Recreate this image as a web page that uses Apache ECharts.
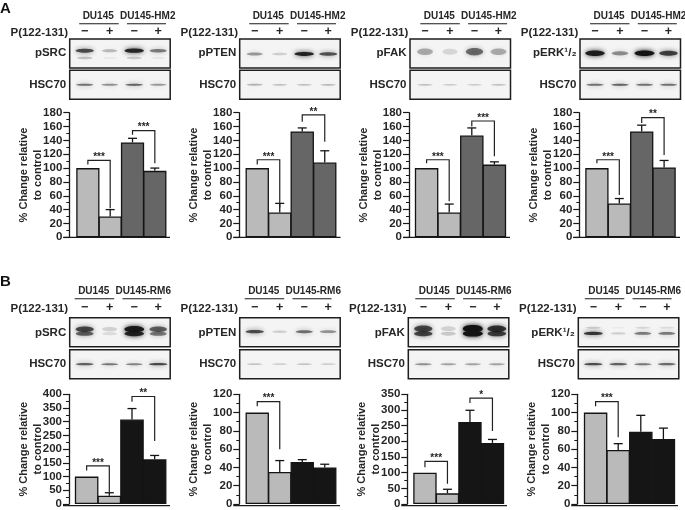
<!DOCTYPE html>
<html><head><meta charset="utf-8">
<style>html,body{margin:0;background:#fff}#c{width:685px;height:510px;filter:blur(0.35px)}</style>
<script src="https://cdn.jsdelivr.net/npm/echarts@6/dist/echarts.min.js"></script>
</head><body><div id="c"></div>
<script>
// ---------- data ----------
const catsA = ['DU145 −','DU145 +','DU145-HM2 −','DU145-HM2 +'];
const catsB = ['DU145 −','DU145 +','DU145-RM6 −','DU145-RM6 +'];
const treatment = ['−','+','−','+'];

const a_pSRC_values  = [100, 30, 137, 96];   const a_pSRC_tops  = [null, 40, 143, 100];
const a_pPTEN_values = [100, 36, 153, 108];  const a_pPTEN_tops = [null, 49, 158, 125];
const a_pFAK_values  = [100, 36, 147, 105];  const a_pFAK_tops  = [null, 48, 158, 109];
const a_pERK_values  = [100, 49, 153, 101];  const a_pERK_tops  = [null, 56, 162, 111];
const b_pSRC_values  = [100, 30, 308, 163];  const b_pSRC_tops  = [null, 41, 348, 177];
const b_pPTEN_values = [100, 35, 46, 40];    const b_pPTEN_tops = [null, 47.5, 48.5, 43.5];
const b_pFAK_values  = [100, 34, 262, 195];  const b_pFAK_tops  = [null, 47, 299, 206];
const b_pERK_values  = [100, 59, 79, 71];    const b_pERK_tops  = [null, 66, 97, 83];

// brackets: [left bar, right bar, left foot, top, right foot]
const a_pSRC_brackets  = [[0,1,105,111,42],[2,3,148,154,107]];
const a_pPTEN_brackets = [[0,1,105,112,43],[2,3,167,177,138]];
const a_pFAK_brackets  = [[0,1,107,112,52],[2,3,160,168,117]];
const a_pERK_brackets  = [[0,1,107,112,61],[2,3,165,173,119]];
const b_pSRC_brackets  = [[0,1,122,139,44],[2,3,373,392,230]];
const b_pPTEN_brackets = [[0,1,107,112,60]];
const b_pFAK_brackets  = [[0,1,117,136,65],[2,3,322,338,233]];
const b_pERK_brackets  = [[0,1,107,112,73]];

const a_pSRC_stars = ['***','***'], a_pPTEN_stars = ['***','**'], a_pFAK_stars = ['***','***'], a_pERK_stars = ['***','**'];
const b_pSRC_stars = ['***','**'], b_pPTEN_stars = ['***'], b_pFAK_stars = ['***','*'], b_pERK_stars = ['***'];

// blot band densities per lane
const a_pSRC_main = [.7,.25,.88,.5], a_pSRC_low = [.22,.05,.18,.06];
const a_pPTEN_main = [.38,.16,.9,.68];
const a_pFAK_main = [.3,.13,.55,.3];
const a_pERK_main = [.92,.42,1,.75];
const a_hsc1 = [.55,.42,.6,.38], a_hsc2 = [.28,.22,.22,.25], a_hsc3 = [.22,.18,.18,.22], a_hsc4 = [.55,.6,.55,.55];
const b_pSRC_main = [.7,.15,.95,.6], b_pSRC_low = [.6,.1,.9,.5];
const b_pPTEN_main = [.7,.16,.55,.4];
const b_pFAK_main = [.7,.14,1,.8], b_pFAK_low = [.72,.18,1,.75];
const b_pERK_main = [.8,.16,.5,.5], b_pERK_low = [.16,.04,.12,.1];
const b_hsc1 = [.62,.52,.48,.72], b_hsc2 = [.2,.16,.2,.16], b_hsc3 = [.42,.34,.34,.34], b_hsc4 = [.7,.62,.52,.58];

// ---------- layout ----------
const LIGHT = '#bababa', DARK_A = '#666666', DARK_B = '#151515', INK = '#262626';
const FONT = '"Liberation Sans", Arial, sans-serif';
const rows = {
  A:{gridTop:112.7, gridH:124.6, blotTop:39, hscTop:70.3, label:16, line:23.7, treat:33},
  B:{gridTop:394.3, gridH:111.4, blotTop:317.7, hscTop:349.7, label:291.5, line:298.7, treat:308.5}
};
const panels = [
 {row:'A',cats:catsA,name:'pSRC',vals:a_pSRC_values,tops:a_pSRC_tops,br:a_pSRC_brackets,st:a_pSRC_stars,max:180,step:20,ax:69.3,x0:76.7,x1:166,end:170,bl:69.7,main:a_pSRC_main,low:a_pSRC_low,my:11.7,ly:19,hsc:a_hsc1,dark:DARK_A,ry:2.2,tx:0},
 {row:'A',cats:catsA,name:'pPTEN',vals:a_pPTEN_values,tops:a_pPTEN_tops,br:a_pPTEN_brackets,st:a_pPTEN_stars,max:180,step:20,ax:239.3,x0:246,x1:336,end:340.5,bl:239.7,main:a_pPTEN_main,my:15,hsc:a_hsc2,dark:DARK_A,ry:2,tx:0},
 {row:'A',cats:catsA,name:'pFAK',vals:a_pFAK_values,tops:a_pFAK_tops,br:a_pFAK_brackets,st:a_pFAK_stars,max:180,step:20,ax:409,x0:415.3,x1:505.7,end:510,bl:410,main:a_pFAK_main,my:12.7,hsc:a_hsc3,dark:DARK_A,ry:4.5,tx:0.8},
 {row:'A',cats:catsA,name:'pERK¹/₂',vals:a_pERK_values,tops:a_pERK_tops,br:a_pERK_brackets,st:a_pERK_stars,max:180,step:20,ax:579.3,x0:585.7,x1:675.3,end:680,bl:580,main:a_pERK_main,my:14.3,hsc:a_hsc4,dark:DARK_A,ry:2.8,tx:0.5},
 {row:'B',cats:catsB,name:'pSRC',vals:b_pSRC_values,tops:b_pSRC_tops,br:b_pSRC_brackets,st:b_pSRC_stars,max:400,step:50,ax:69,x0:75.3,x1:166,end:170,bl:69.7,main:b_pSRC_main,low:b_pSRC_low,my:11.5,ly:16,hsc:b_hsc1,dark:DARK_B,ry:3.2,tx:-4.5},
 {row:'B',cats:catsB,name:'pPTEN',vals:b_pPTEN_values,tops:b_pPTEN_tops,br:b_pPTEN_brackets,st:b_pPTEN_stars,max:120,step:20,ax:239.3,x0:246,x1:336,end:340,bl:239.7,main:b_pPTEN_main,my:14,hsc:b_hsc2,dark:DARK_B,ry:1.8,tx:-4.5},
 {row:'B',cats:catsB,name:'pFAK',vals:b_pFAK_values,tops:b_pFAK_tops,br:b_pFAK_brackets,st:b_pFAK_stars,max:350,step:50,ax:407.3,x0:413.7,x1:503.7,end:507,bl:408.3,main:b_pFAK_main,low:b_pFAK_low,my:11,ly:16,hsc:b_hsc3,dark:DARK_B,ry:3.6,tx:-2.5},
 {row:'B',cats:catsB,name:'pERK¹/₂',vals:b_pERK_values,tops:b_pERK_tops,br:b_pERK_brackets,st:b_pERK_stars,max:120,step:20,ax:577.3,x0:584.3,x1:674.7,end:678,bl:578.3,main:b_pERK_main,low:b_pERK_low,my:15.7,ly:10,hsc:b_hsc4,dark:DARK_B,ry:1.8,tx:-3}
];
const BLOT_W = 100.5, BLOT_H = 29;
const LANES = [15, 40, 64.5, 88.5];

const grid=[], xAxis=[], yAxis=[], series=[], graphic=[];
function txt(x,y,text,size,align){
  graphic.push({type:'text',x,y,z:50,style:{text,font:`bold ${size}px ${FONT}`,fill:INK,textAlign:align||'center',textVerticalAlign:'middle'}});
}
function hline(x1,x2,y,w){
  graphic.push({type:'line',z:60,shape:{x1,y1:y,x2,y2:y},style:{stroke:'#1a1a1a',lineWidth:w}});
}
function band(cx,cy,rx,ry,a){
  const c=`rgba(20,20,20,${a})`;
  graphic.push({type:'ellipse',z:31,shape:{cx,cy,rx,ry},style:{fill:c,shadowBlur:5,shadowColor:c}});
}
function blot(x,y,label,layers){
  graphic.push({type:'rect',z:30,shape:{x,y,width:BLOT_W,height:BLOT_H},style:{fill:'#f4f4f4',stroke:'none'}});
  layers.forEach(l=>l.a.forEach((a,i)=>band(x+LANES[i],y+l.y,7+a*3,l.ry*(0.6+a*0.4),a)));
  graphic.push({type:'rect',z:32,shape:{x,y,width:BLOT_W,height:BLOT_H},style:{fill:'none',stroke:'#1e1e1e',lineWidth:1.5}});
  txt(x-3.5,y+(label==='HSC70'?14.5:15-(y<100?1:0)),label,11.5,'right');
}

panels.forEach((p,i)=>{
  const r=rows[p.row];
  const bandW=(p.x1-p.x0)/4;
  grid.push({left:p.x0,top:r.gridTop,width:p.x1-p.x0,height:r.gridH,containLabel:false});
  xAxis.push({gridIndex:i,type:'category',data:p.cats,axisLine:{show:false},axisTick:{show:false},axisLabel:{show:false},splitLine:{show:false}});
  yAxis.push({gridIndex:i,type:'value',min:0,max:p.max,interval:p.step,offset:p.x0-p.ax,
    name:'% Change relative\nto control',nameLocation:'middle',nameGap:24,nameRotate:90,nameMoveOverlap:false,
    nameTextStyle:{fontFamily:FONT,fontWeight:'bold',fontSize:11,color:INK,lineHeight:14},
    axisLine:{show:true,lineStyle:{color:'#1a1a1a',width:1.3}},
    axisTick:{show:true,length:6,lineStyle:{color:'#1a1a1a',width:1.2}},
    minorTick:{show:true,splitNumber:2,length:3,lineStyle:{color:'#1a1a1a',width:1}},
    splitLine:{show:false},
    axisLabel:{margin:7,color:INK,fontFamily:FONT,fontWeight:'bold',fontSize:11.5}});
  const colors=[LIGHT,LIGHT,p.dark,p.dark];
  series.push({type:'bar',xAxisIndex:i,yAxisIndex:i,barWidth:bandW+0.9,barGap:0,z:3,silent:true,
    data:p.vals.map((v,k)=>({value:v,itemStyle:{color:colors[k],borderColor:'#141414',borderWidth:1.3}}))});
  series.push({type:'custom',xAxisIndex:i,yAxisIndex:i,z:2,silent:true,
    data:p.tops.map((t,k)=>[k,p.vals[k],t==null?p.vals[k]:t]),
    renderItem:(params,api)=>{
      const a=api.coord([api.value(0),api.value(1)]),b=api.coord([api.value(0),api.value(2)]);
      if(a[1]===b[1]) return {type:'group',children:[]};
      const st={stroke:'#141414',lineWidth:1.3,fill:'none'};
      return {type:'group',children:[
        {type:'line',shape:{x1:a[0],y1:a[1],x2:b[0],y2:b[1]},style:st},
        {type:'line',shape:{x1:b[0]-4.5,y1:b[1],x2:b[0]+4.5,y2:b[1]},style:st}]};
    }});
  series.push({type:'custom',xAxisIndex:i,yAxisIndex:i,z:4,silent:true,
    data:p.br,
    renderItem:(params,api)=>{
      const L=api.value(0),R=api.value(1);
      const a=api.coord([L,api.value(2)]),t=api.coord([L,api.value(3)]),t2=api.coord([R,api.value(3)]),b=api.coord([R,api.value(4)]);
      return {type:'group',children:[
        {type:'polyline',shape:{points:[a,t,t2,b]},style:{stroke:'#222',lineWidth:1.2,fill:'none'}},
        {type:'text',style:{x:(t[0]+t2[0])/2,y:t[1]+2,text:p.st[params.dataIndex],font:`bold 10px ${FONT}`,fill:INK,textAlign:'center',textVerticalAlign:'bottom'}}]};
    }});
  const base=r.gridTop+r.gridH;
  hline(p.ax-6,p.end,base,1.3);

  const layers=[{a:p.main,y:p.my,ry:p.ry}];
  if(p.low) layers.push({a:p.low,y:p.ly,ry:p.ry*0.8});
  blot(p.bl,r.blotTop,p.name,layers);
  blot(p.bl,r.hscTop,'HSC70',[{a:p.hsc,y:14.5,ry:1.3}]);
  const tx=p.tx, L=p.bl;
  txt(L+28.5+tx,r.label,'DU145',10);
  txt(L+78+tx,r.label,p.cats[2].split(' ')[0],10);
  hline(L+9.5+tx,L+49+tx,r.line,1.1);
  hline(L+57.3+tx,L+96.3+tx,r.line,1.1);
  txt(L-1.7,r.treat,'P(122-131)',11.5,'right');
  treatment.forEach((s,k)=>txt(L+LANES[k],r.treat-1,s,12.5));
});
graphic.push({type:'text',x:0,y:9,z:50,style:{text:'A',font:`bold 15px ${FONT}`,fill:'#111',textVerticalAlign:'middle'}});
graphic.push({type:'text',x:0,y:282,z:50,style:{text:'B',font:`bold 15px ${FONT}`,fill:'#111',textVerticalAlign:'middle'}});

const chart=echarts.init(document.getElementById('c'),null,{renderer:'canvas',width:685,height:510});
chart.setOption({animation:false,backgroundColor:'#fff',tooltip:{show:false},grid,xAxis,yAxis,series,graphic});
</script></body></html>
